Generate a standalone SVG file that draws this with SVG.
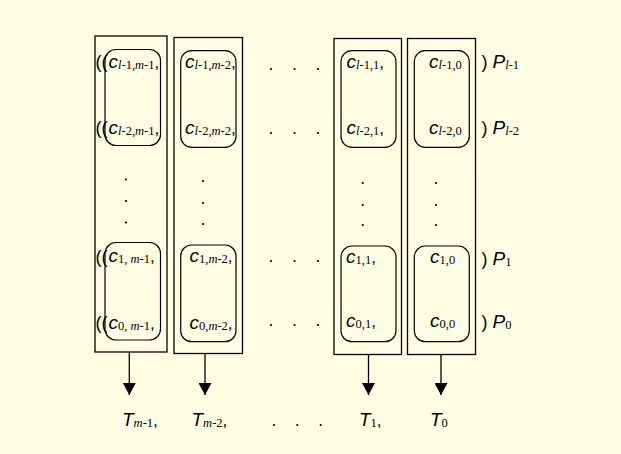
<svg xmlns="http://www.w3.org/2000/svg" width="621" height="454" viewBox="0 0 621 454">
<style>
.box{fill:none;stroke:#000;stroke-width:1.3}
.inner{fill:none;stroke:#000;stroke-width:1.2}
.c{font-family:"Liberation Sans",Arial,sans-serif;font-style:italic;font-size:19px;fill:#000}
.s{font-family:"Liberation Serif","Times New Roman",serif;font-size:12.5px;font-style:normal}
.i{font-style:italic}
.k{font-family:"Liberation Sans",Arial,sans-serif;font-style:normal;font-size:17px}
.p{font-family:"Liberation Sans",Arial,sans-serif;font-size:18px;fill:#000}
.d{fill:#000}
.ln{stroke:#000;stroke-width:1.3;fill:none}
</style>
<defs>
<marker id="ah" markerWidth="13" markerHeight="13" refX="12" refY="6.5" orient="auto" markerUnits="userSpaceOnUse" viewBox="0 0 13 13">
<path d="M0,0 L12,6.5 L0,13 Z" fill="#000"/>
</marker>
</defs>
<rect x="0" y="0" width="621" height="454" fill="#FFFFE3"/>

<g id="col-m-1">
<rect class="box" x="95" y="36" width="72" height="316"/>
<rect class="inner" x="105" y="49.5" width="55.5" height="96" rx="11"/>
<rect class="inner" x="105" y="242.5" width="55.5" height="97.5" rx="11"/>
<text class="p" x="95.5" y="68">((</text>
<text class="c" x="108.5" y="67.5">c<tspan class="s" dy="1"><tspan class="i">l</tspan>-1,<tspan class="i">m</tspan>-1</tspan><tspan class="k" dy="-1">,</tspan></text>
<text class="p" x="95.5" y="134">((</text>
<text class="c" x="108.5" y="133.5">c<tspan class="s" dy="1"><tspan class="i">l</tspan>-2,<tspan class="i">m</tspan>-1</tspan><tspan class="k" dy="-1">,</tspan></text>
<circle class="d" cx="126" cy="179.5" r="1.1"/>
<circle class="d" cx="126" cy="201" r="1.1"/>
<circle class="d" cx="126" cy="222.5" r="1.1"/>
<text class="p" x="95.5" y="262.5">((</text>
<text class="c" x="108.5" y="262">c<tspan class="s" dy="1">1, <tspan class="i">m</tspan>-1</tspan><tspan class="k" dy="-1">,</tspan></text>
<text class="p" x="95.5" y="329">((</text>
<text class="c" x="108.5" y="328.5">c<tspan class="s" dy="1">0, <tspan class="i">m</tspan>-1</tspan><tspan class="k" dy="-1">,</tspan></text>
</g>

<g id="col-m-2">
<rect class="box" x="174" y="37.5" width="68.5" height="316"/>
<rect class="inner" x="180.7" y="50.7" width="55.3" height="96.6" rx="11"/>
<rect class="inner" x="180.7" y="245" width="55.3" height="96.7" rx="11"/>
<text class="c" x="185" y="67.5">c<tspan class="s" dy="1"><tspan class="i">l</tspan>-1,<tspan class="i">m</tspan>-2</tspan><tspan class="k" dy="-1">,</tspan></text>
<text class="c" x="185" y="133.5">c<tspan class="s" dy="1"><tspan class="i">l</tspan>-2,<tspan class="i">m</tspan>-2</tspan><tspan class="k" dy="-1">,</tspan></text>
<circle class="d" cx="203" cy="181" r="1.1"/>
<circle class="d" cx="203" cy="203" r="1.1"/>
<circle class="d" cx="203" cy="224" r="1.1"/>
<text class="c" x="189.5" y="262">c<tspan class="s" dy="1">1,<tspan class="i">m</tspan>-2</tspan><tspan class="k" dy="-1">,</tspan></text>
<text class="c" x="189.5" y="328.5">c<tspan class="s" dy="1">0,<tspan class="i">m</tspan>-2</tspan><tspan class="k" dy="-1">,</tspan></text>
</g>

<g id="ellipsis">
<circle class="d" cx="271" cy="69" r="1.1"/><circle class="d" cx="294.5" cy="69" r="1.1"/><circle class="d" cx="318" cy="69" r="1.1"/>
<circle class="d" cx="271" cy="133" r="1.1"/><circle class="d" cx="294.5" cy="133" r="1.1"/><circle class="d" cx="318" cy="133" r="1.1"/>
<circle class="d" cx="271" cy="261" r="1.1"/><circle class="d" cx="294.5" cy="261" r="1.1"/><circle class="d" cx="318" cy="261" r="1.1"/>
<circle class="d" cx="271" cy="325" r="1.1"/><circle class="d" cx="294.5" cy="325" r="1.1"/><circle class="d" cx="318" cy="325" r="1.1"/>
</g>

<g id="col-1">
<rect class="box" x="334" y="38.5" width="67.5" height="316"/>
<rect class="inner" x="341" y="50.7" width="55" height="96.6" rx="11"/>
<rect class="inner" x="341" y="246" width="55" height="95.7" rx="11"/>
<text class="c" x="346.5" y="67.5">c<tspan class="s" dy="1"><tspan class="i">l</tspan>-1,1</tspan><tspan class="k" dy="-1">,</tspan></text>
<text class="c" x="346.5" y="133.5">c<tspan class="s" dy="1"><tspan class="i">l</tspan>-2,1</tspan><tspan class="k" dy="-1">,</tspan></text>
<circle class="d" cx="362.7" cy="183" r="1.1"/>
<circle class="d" cx="362.7" cy="205" r="1.1"/>
<circle class="d" cx="362.7" cy="225" r="1.1"/>
<text class="c" x="346" y="263">c<tspan class="s" dy="1">1,1</tspan><tspan class="k" dy="-1">,</tspan></text>
<text class="c" x="346" y="327">c<tspan class="s" dy="1">0,1</tspan><tspan class="k" dy="-1">,</tspan></text>
</g>

<g id="col-0">
<rect class="box" x="407.5" y="38.5" width="68" height="316"/>
<rect class="inner" x="414.3" y="50.7" width="55" height="96.6" rx="11"/>
<rect class="inner" x="414.3" y="246" width="55" height="95.7" rx="11"/>
<text class="c" x="429" y="67.5">c<tspan class="s" dy="1"><tspan class="i">l</tspan>-1,0</tspan></text>
<text class="c" x="429" y="133.5">c<tspan class="s" dy="1"><tspan class="i">l</tspan>-2,0</tspan></text>
<circle class="d" cx="436" cy="183" r="1.1"/>
<circle class="d" cx="436" cy="205" r="1.1"/>
<circle class="d" cx="436" cy="225" r="1.1"/>
<text class="c" x="430" y="263">c<tspan class="s" dy="1">1,0</tspan></text>
<text class="c" x="430" y="327">c<tspan class="s" dy="1">0,0</tspan></text>
</g>

<g id="P-labels">
<text class="p" x="481.5" y="68">) <tspan font-style="italic" font-size="19">P</tspan><tspan class="s" dy="1"><tspan class="i">l</tspan>-1</tspan></text>
<text class="p" x="481.5" y="134">) <tspan font-style="italic" font-size="19">P</tspan><tspan class="s" dy="1"><tspan class="i">l</tspan>-2</tspan></text>
<text class="p" x="481.5" y="265">) <tspan font-style="italic" font-size="19">P</tspan><tspan class="s" dy="1">1</tspan></text>
<text class="p" x="481.5" y="327.5">) <tspan font-style="italic" font-size="19">P</tspan><tspan class="s" dy="1">0</tspan></text>
</g>

<g id="connectors">
<line class="ln" x1="129.3" y1="352" x2="129.3" y2="395" marker-end="url(#ah)"/>
<line class="ln" x1="205" y1="353.5" x2="205" y2="395" marker-end="url(#ah)"/>
<line class="ln" x1="368.5" y1="354.5" x2="368.5" y2="395" marker-end="url(#ah)"/>
<line class="ln" x1="441" y1="354.5" x2="441" y2="395" marker-end="url(#ah)"/>
</g>

<g id="T-labels">
<text class="c" x="122" y="426">T<tspan class="s" dy="1"><tspan class="i">m</tspan>-1</tspan><tspan class="k" dy="-1">,</tspan></text>
<text class="c" x="191.5" y="426">T<tspan class="s" dy="1"><tspan class="i">m</tspan>-2</tspan><tspan class="k" dy="-1">,</tspan></text>
<circle class="d" cx="274" cy="425" r="1.1"/><circle class="d" cx="297.3" cy="425" r="1.1"/><circle class="d" cx="320.7" cy="425" r="1.1"/>
<text class="c" x="359" y="426">T<tspan class="s" dy="1">1</tspan><tspan class="k" dy="-1">,</tspan></text>
<text class="c" x="430" y="426">T<tspan class="s" dy="1">0</tspan></text>
</g>
</svg>
